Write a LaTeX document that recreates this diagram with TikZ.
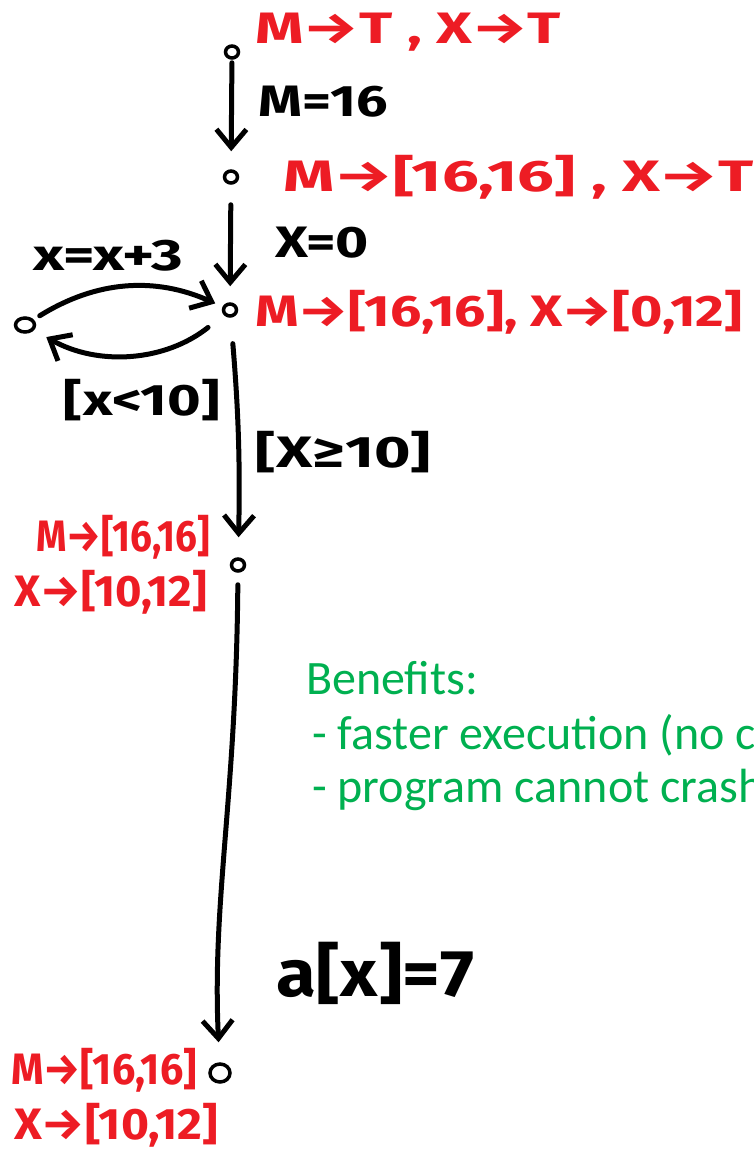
\documentclass[tikz,border=0pt]{standalone}
\usepackage{fontspec}
\setmainfont{Fira Sans}
\newfontfamily\greenfont{Carlito}
\usetikzlibrary{arrows.meta,shapes.geometric}
\definecolor{hred}{RGB}{237,28,36}
\definecolor{hgreen}{RGB}{0,176,80}
\tikzset{
  x=1pt,y=1pt,
  pt/.style={draw,ellipse,line width=3.5pt,minimum width=13pt,minimum height=12pt,inner sep=0pt},
  flow/.style={line width=5pt,line cap=round,-{Straight Barb[length=18pt,width=30pt,line width=5pt]}},
  hand/.style={font=\fontsize{44}{44}\selectfont\bfseries,inner sep=0pt,transform shape},
  state/.style={hand,text=hred},
  note/.style={font=\greenfont\fontsize{48}{48}\selectfont,text=hgreen,inner sep=0pt,anchor=west}
}
\begin{document}
\begin{tikzpicture}
\useasboundingbox (0,0) rectangle (753,-1157);
\clip (0,0) rectangle (753,-1157);
% program points
\node[pt] (n1) at (232,-52) {};
\node[pt] (n2) at (231,-177) {};
\node[pt] (n3) at (230,-310) {};
\node[pt,minimum width=19pt,minimum height=14pt] (n4) at (25,-325) {};
\node[pt] (n5) at (238,-565) {};
\node[pt,minimum width=20pt,minimum height=18pt] (n6) at (220,-1073) {};
% edges
\draw[flow,shorten <=3pt,shorten >=18pt] (n1) -- (n2);
\draw[flow,shorten <=20pt,shorten >=16pt] (n2) -- (n3);
\draw[flow,shorten <=7pt,shorten >=8pt] (n4) to[bend left=28] (n3);
\draw[flow,shorten <=20pt,shorten >=14pt] (n3) to[bend left=34] (n4);
\draw[flow,shorten <=26pt,shorten >=20pt] (n3) to[bend left=3] (n5);
\draw[flow,shorten <=12pt,shorten >=20pt] (n5) .. controls (236,-800) and (212,-900) .. (n6);
% statement labels
\node[hand,anchor=west,xscale=1.27] (l1) at (258,-102) {M=16};
\node[hand,anchor=west,xscale=1.29] (l2) at (275,-243) {X=0};
\node[hand,xscale=1.38] (l3) at (108,-256) {x=x+3};
\node[hand,xscale=1.31] (l4) at (142,-400) {[x<10]};
\node[hand,anchor=west,xscale=1.42] (l5) at (255,-452) {[X≥10]};
\node[hand,anchor=west,font=\fontsize{66}{66}\selectfont\bfseries,xscale=1.1] (l6) at (276,-973) {a[x]=7};
% abstract states
\node[state,anchor=west,xscale=1.4] (s1) at (255,-32) {M→T , X→T};
\node[state,anchor=west,xscale=1.48] (s2) at (283,-177) {M→[16,16] , X→T};
\node[state,anchor=west,xscale=1.26] (s3) at (255,-312) {M→[16,16], X→[0,12]};
\node[state,anchor=east,xscale=0.88] (s4) at (210,-537) {M→[16,16]};
\node[state,anchor=east,xscale=1.03] (s5) at (207,-592) {X→[10,12]};
\node[state,anchor=east,xscale=0.94] (s6) at (197,-1070) {M→[16,16]};
\node[state,anchor=east,xscale=1.09] (s7) at (218,-1125) {X→[10,12]};
% notes
\node[note] (b1) at (306,-678) {Benefits:};
\node[note] (b2) at (312,-735) {- faster execution (no c};
\node[note] (b3) at (312,-790) {- program cannot crash};
\end{tikzpicture}
\end{document}
